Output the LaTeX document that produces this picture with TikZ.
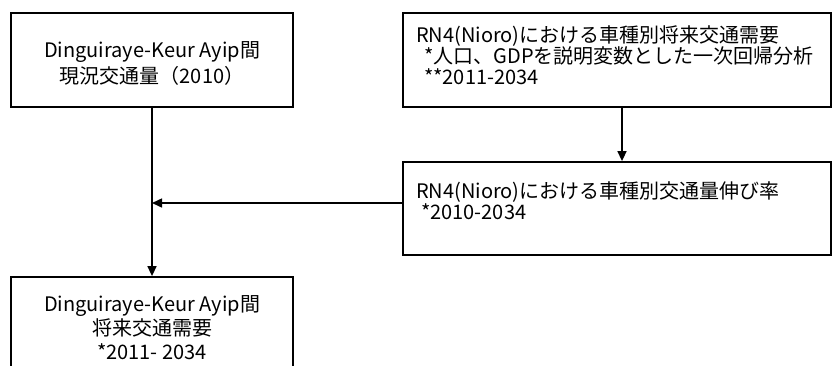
\documentclass[tikz,border=0pt]{standalone}
\usepackage{fontspec}
\newfontfamily\jp{Noto Sans CJK JP}
\usetikzlibrary{arrows.meta}
\begin{document}
\begin{tikzpicture}[x=1pt,y=-1pt,
  box/.style={draw=black,line width=1.8pt,rectangle,inner sep=0pt},
  txt/.style={font=\jp\fontsize{20}{24}\selectfont,inner sep=0pt},
  conn/.style={line width=1.5pt,-{Triangle[length=10pt,width=9pt]}}]
\useasboundingbox (0,0) rectangle (832,365);
% boxes
\node[box,minimum width=282pt,minimum height=94pt] (a) at (152,60) {};
\node[box,minimum width=428pt,minimum height=94pt] (b) at (617,60) {};
\node[box,minimum width=428pt,minimum height=93pt] (c) at (617,208.5) {};
\node[box,minimum width=282pt,minimum height=94pt] (d) at (152,324) {};
% texts
\node[txt,align=center,font=\jp\fontsize{20}{26}\selectfont] (at) at (152,63) {Dinguiraye-Keur Ayip間\\現況交通量（2010）};
\node[txt,align=left,anchor=west,font=\jp\fontsize{20}{21}\selectfont] (bt) at (416,55) {RN4(Nioro)における車種別将来交通需要\\\hspace{0.4em}*人口、GDPを説明変数とした一次回帰分析\\\hspace{0.4em}**2011-2034};
\node[txt,align=left,anchor=west,font=\jp\fontsize{20}{19}\selectfont] (ct) at (416,201) {RN4(Nioro)における車種別交通量伸び率\\\hspace{0.25em}*2010-2034};
\node[txt,align=center] (dt) at (152,328) {Dinguiraye-Keur Ayip間\\将来交通需要\\*2011- 2034};
% connectors
\coordinate (m) at (152,203);
\draw[conn] (a.south) -- (d.north);
\draw[conn] (b.south -| 622,0) -- (c.north -| 622,0);
\draw[conn] (c.west |- m) -- (m);
\end{tikzpicture}
\end{document}
